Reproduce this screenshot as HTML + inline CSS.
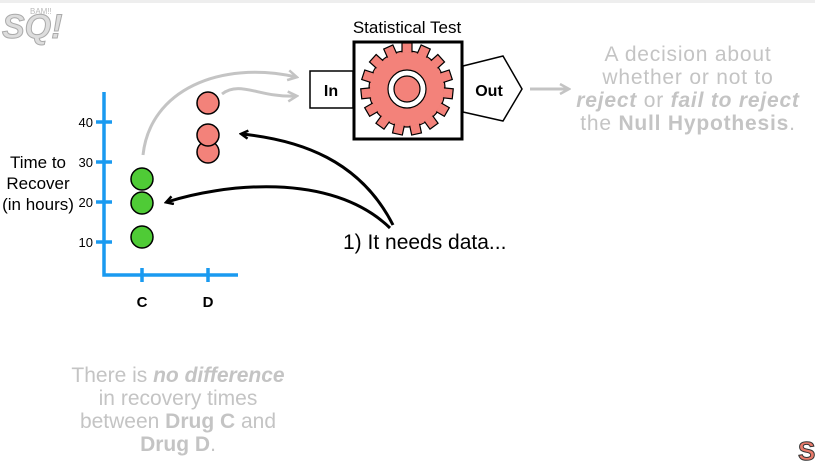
<!DOCTYPE html>
<html><head><style>
body{margin:0;width:815px;height:476px;background:#fff;overflow:hidden;font-family:"Liberation Sans",sans-serif;}
</style></head><body>
<svg width="815" height="476" viewBox="0 0 815 476" style="position:absolute;left:0;top:0">
<defs>
<marker id="bk" markerWidth="10" markerHeight="10" refX="7" refY="5" orient="auto" markerUnits="userSpaceOnUse"><path d="M1,1 L8,5 L1,9" fill="none" stroke="#000" stroke-width="2.5"/></marker>
<marker id="gr" markerWidth="12" markerHeight="12" refX="9" refY="6" orient="auto" markerUnits="userSpaceOnUse"><path d="M1,1 L10,6 L1,11" fill="none" stroke="#c4c4c4" stroke-width="2.5"/></marker>
</defs>
<rect x="0" y="0" width="815" height="3" fill="#eee"/>
<!-- logo -->
<text x="2" y="38" font-size="34" font-weight="bold" font-style="italic" fill="#ddd" stroke="#aaa" stroke-width="1">SQ!</text>
<text x="30" y="14" font-size="8" fill="#bbb">BAM!!</text>
<text x="798" y="460" font-size="26" font-weight="bold" fill="#e97a6a" stroke="#333" stroke-width="1">S</text>
<!-- axes -->
<g stroke="#1a9af0" stroke-width="3.5" fill="none">
<path d="M104,92 L104,275 L238,275"/>
<path d="M96,122h16M96,162h16M96,202h16M96,242h16M142,268v14M208,268v14"/>
</g>
<g font-size="13" text-anchor="end">
<text x="93" y="127">40</text><text x="93" y="167">30</text><text x="93" y="207">20</text><text x="93" y="247">10</text>
</g>
<g font-size="17" text-anchor="middle">
<text x="38" y="168">Time to</text><text x="38" y="189">Recover</text><text x="38" y="210">(in hours)</text>
</g>
<text x="142" y="307" font-size="15" font-weight="bold" text-anchor="middle">C</text>
<text x="208" y="307" font-size="15" font-weight="bold" text-anchor="middle">D</text>
<!-- gray arcs -->
<path d="M143,155 C150,90 220,60 296,77" fill="none" stroke="#c4c4c4" stroke-width="3" marker-end="url(#gr)"/>
<path d="M222,94 C240,80 260,98 296,96" fill="none" stroke="#c4c4c4" stroke-width="3" marker-end="url(#gr)"/>
<!-- points -->
<g stroke="#000" stroke-width="1.5">
<circle cx="142" cy="179" r="11" fill="#4fcb36"/>
<circle cx="142" cy="203" r="11" fill="#4fcb36"/>
<circle cx="142" cy="237" r="11" fill="#4fcb36"/>
<circle cx="208" cy="103" r="11" fill="#f3827a"/>
<circle cx="208" cy="152" r="11" fill="#f3827a"/>
<circle cx="208" cy="135" r="11" fill="#f3827a"/>
</g>
<!-- black arrows -->
<path d="M393,225 C360,160 300,140 242,134" fill="none" stroke="#000" stroke-width="3" marker-end="url(#bk)"/>
<path d="M390,228 C330,170 220,185 167,202" fill="none" stroke="#000" stroke-width="3" marker-end="url(#bk)"/>
<text x="343" y="249" font-size="21">1) It needs data...</text>
<!-- statistical test -->
<text x="407" y="33" font-size="17" text-anchor="middle">Statistical Test</text>
<rect x="310" y="71" width="43" height="37" fill="#fff" stroke="#000" stroke-width="1.5"/>
<text x="331" y="96" font-size="16" font-weight="bold" text-anchor="middle">In</text>
<path d="M463,66 L503,56 L522,89 L503,121 L463,112 Z" fill="#fff" stroke="#000" stroke-width="1.5"/>
<text x="489" y="96" font-size="16" font-weight="bold" text-anchor="middle">Out</text>
<rect x="354" y="42" width="108" height="97" fill="#fff" stroke="#000" stroke-width="3"/>
<g transform="translate(407,89)">
<circle r="38" fill="#f3827a" stroke="#000" stroke-width="1.2"/>
<g fill="#f3827a" stroke="#000" stroke-width="1.2">
<rect x="-5" y="-46" width="10" height="10"/><rect x="-5" y="-46" width="10" height="10" transform="rotate(24)"/><rect x="-5" y="-46" width="10" height="10" transform="rotate(48)"/><rect x="-5" y="-46" width="10" height="10" transform="rotate(72)"/><rect x="-5" y="-46" width="10" height="10" transform="rotate(96)"/><rect x="-5" y="-46" width="10" height="10" transform="rotate(120)"/><rect x="-5" y="-46" width="10" height="10" transform="rotate(144)"/><rect x="-5" y="-46" width="10" height="10" transform="rotate(168)"/><rect x="-5" y="-46" width="10" height="10" transform="rotate(192)"/><rect x="-5" y="-46" width="10" height="10" transform="rotate(216)"/><rect x="-5" y="-46" width="10" height="10" transform="rotate(240)"/><rect x="-5" y="-46" width="10" height="10" transform="rotate(264)"/><rect x="-5" y="-46" width="10" height="10" transform="rotate(288)"/><rect x="-5" y="-46" width="10" height="10" transform="rotate(312)"/><rect x="-5" y="-46" width="10" height="10" transform="rotate(336)"/>
</g>
<circle r="37" fill="#f3827a"/>
<circle r="19" fill="#fff" stroke="#000" stroke-width="1.2"/>
<circle r="13" fill="#f3827a" stroke="#000" stroke-width="1.2"/>
</g>
<path d="M530,89 L568,89" stroke="#c4c4c4" stroke-width="3" marker-end="url(#gr)"/>
<g font-size="21" fill="#c4c4c4" text-anchor="middle">
<g letter-spacing="0.8">
<text x="688" y="61">A decision about</text>
<text x="688" y="84">whether or not to</text>
<text x="688" y="107"><tspan font-weight="bold" font-style="italic">reject</tspan> or <tspan font-weight="bold" font-style="italic">fail to reject</tspan></text>
<text x="688" y="130">the <tspan font-weight="bold">Null Hypothesis</tspan>.</text>
</g>
<text x="178" y="382">There is <tspan font-weight="bold" font-style="italic">no difference</tspan></text>
<text x="178" y="405">in recovery times</text>
<text x="178" y="428">between <tspan font-weight="bold">Drug C</tspan> and</text>
<text x="178" y="451"><tspan font-weight="bold">Drug D</tspan>.</text>
</g>
</svg>
</body></html>
